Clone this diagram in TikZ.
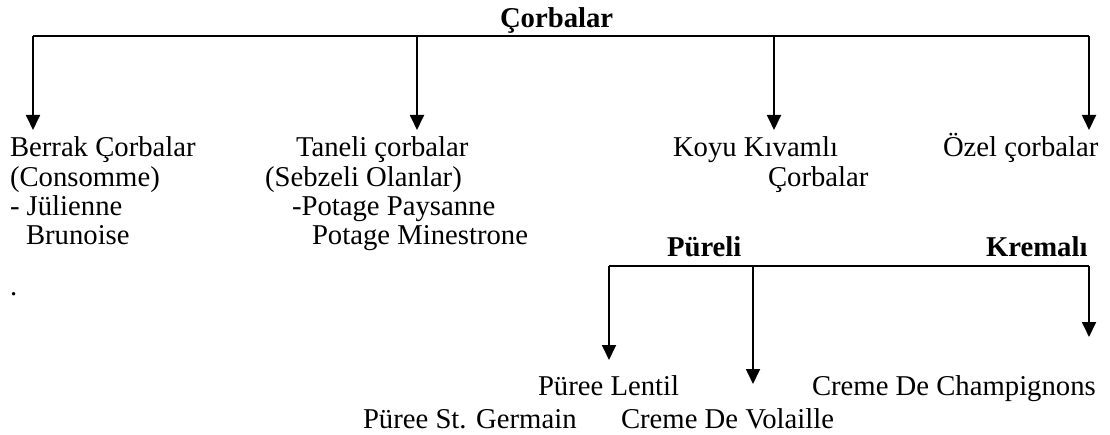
\documentclass[tikz,border=0pt]{standalone}
\usepackage{fontspec}
\setmainfont{Liberation Serif}
\usetikzlibrary{arrows.meta}
\tikzset{
  txt/.style={anchor=base west,inner sep=0pt,outer sep=0pt,font=\fontsize{28.7}{30}\selectfont},
  btxt/.style={txt,font=\fontsize{28.7}{30}\selectfont\bfseries},
  bus/.style={line width=1.8pt},
  drop/.style={line width=1.8pt,-{Triangle[width=14pt,length=15pt]}}
}
\begin{document}
\begin{tikzpicture}[x=1pt,y=-1pt]
\useasboundingbox (0,0) rectangle (1110,435);
% texts
\node[btxt] (root) at (500,28) {Çorbalar};
\node[txt] (berrak) at (10,157) {Berrak Çorbalar};
\node[txt] (consomme) at (10,187) {(Consomme)};
\node[txt] (julienne) at (10,216) {- Jülienne};
\node[txt] (brunoise) at (26,245) {Brunoise};
\node[txt] (dot) at (10,296) {.};
\node[txt] (taneli) at (296,157) {Taneli çorbalar};
\node[txt] (sebzeli) at (265,187) {(Sebzeli Olanlar)};
\node[txt] (paysanne) at (292,216) {-Potage Paysanne};
\node[txt] (minestrone) at (312,245) {Potage Minestrone};
\node[txt] (koyu) at (673,157) {Koyu Kıvamlı};
\node[txt] (koyu2) at (768,187) {Çorbalar};
\node[txt] (ozel) at (943,157) {Özel çorbalar};
\node[btxt] (pureli) at (667,257) {Püreli};
\node[btxt] (kremali) at (986,257) {Kremalı};
\node[txt] (lentil) at (538,395) {Püree Lentil};
\node[txt] (champ) at (812,395) {Creme De Champignons};
\node[txt] (germain) at (363,428) {Püree St. Germain};
\node[txt] (volaille) at (621,428) {Creme De Volaille};
% main bus
\coordinate (m1) at (33,36);
\coordinate (m2) at (417,36);
\coordinate (m3) at (774,36);
\coordinate (m4) at (1089,36);
\coordinate (t1) at (33,130);
\coordinate (t2) at (417,130);
\coordinate (t3) at (774,130);
\coordinate (t4) at (1089,130);
\draw[bus] (m1) -- (m4);
\draw[drop] (m1) -- (t1);
\draw[drop] (m2) -- (t2);
\draw[drop] (m3) -- (t3);
\draw[drop] (m4) -- (t4);
% second bus
\coordinate (s1) at (609,266);
\coordinate (s2) at (753,266);
\coordinate (s3) at (1089,266);
\coordinate (u1) at (609,360);
\coordinate (u2) at (753,384);
\coordinate (u3) at (1089,337);
\draw[bus] (s1) -- (s3);
\draw[drop] (s1) -- (u1);
\draw[drop] (s2) -- (u2);
\draw[drop] (s3) -- (u3);
\end{tikzpicture}
\end{document}
